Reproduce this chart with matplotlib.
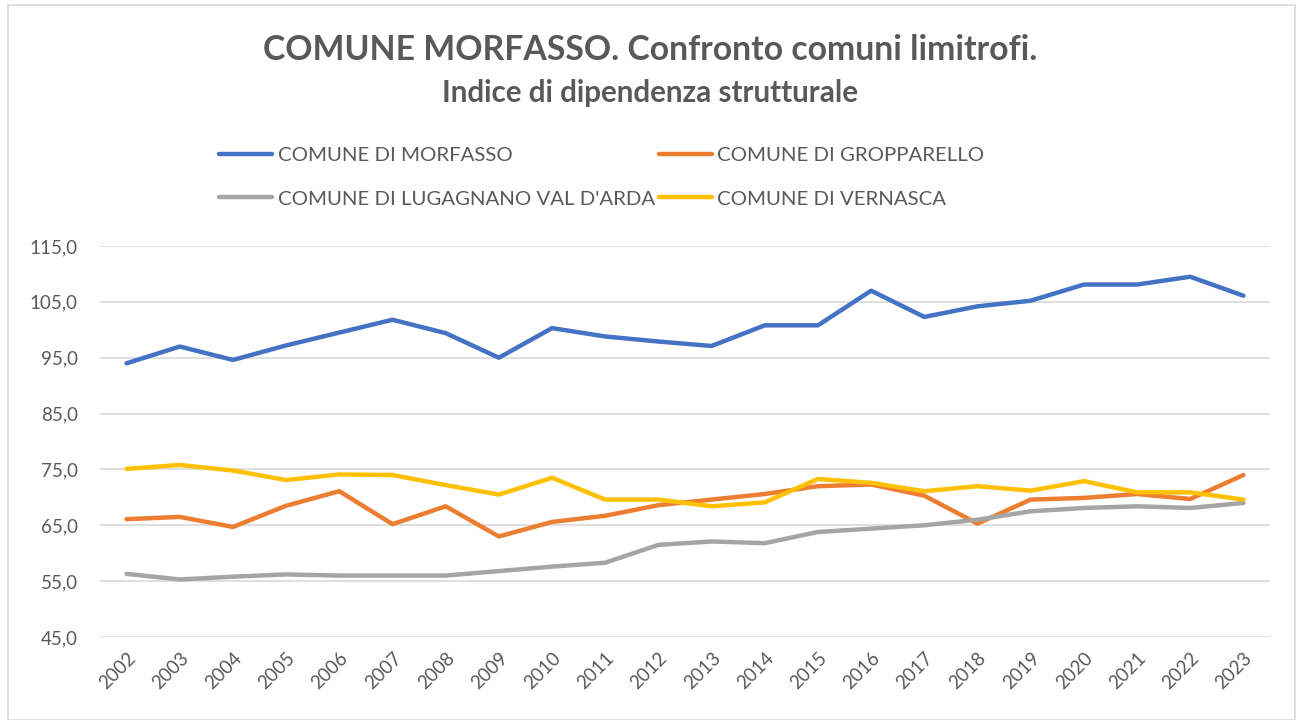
import numpy as np
import matplotlib.pyplot as plt
from matplotlib.patches import Rectangle
from matplotlib.ticker import FuncFormatter

# Indice di dipendenza strutturale, 2002-2023
anni = [str(a) for a in range(2002, 2024)]

morfasso = [94.0, 97.0, 94.6, 97.2, 99.5, 101.8, 99.4, 95.0, 100.3, 98.8, 97.9,
            97.1, 100.8, 100.8, 107.0, 102.3, 104.2, 105.2, 108.1, 108.1, 109.5, 106.1]
gropparello = [66.1, 66.5, 64.7, 68.5, 71.1, 65.2, 68.4, 63.0, 65.6, 66.7, 68.6,
               69.6, 70.6, 72.0, 72.3, 70.3, 65.3, 69.6, 69.9, 70.6, 69.7, 74.0]
lugagnano = [56.3, 55.3, 55.8, 56.2, 56.0, 56.0, 56.0, 56.8, 57.6, 58.3, 61.5,
             62.1, 61.8, 63.8, 64.4, 65.0, 66.0, 67.5, 68.1, 68.4, 68.1, 69.0]
vernasca = [75.1, 75.8, 74.8, 73.1, 74.1, 74.0, 72.2, 70.5, 73.5, 69.6, 69.6,
            68.4, 69.1, 73.3, 72.6, 71.1, 72.0, 71.2, 72.9, 70.9, 70.9, 69.6]

serie = [
    ("COMUNE DI MORFASSO", morfasso, "#4472c4"),
    ("COMUNE DI GROPPARELLO", gropparello, "#ed7d31"),
    ("COMUNE DI LUGAGNANO VAL D'ARDA", lugagnano, "#a5a5a5"),
    ("COMUNE DI VERNASCA", vernasca, "#ffc000"),
]

plt.rcParams['font.family'] = ['Lato', 'DejaVu Sans']
grigio = "#595959"

W, H = 1301, 720
fig = plt.figure(figsize=(W / 100, H / 100), dpi=100)
ax = fig.add_axes([100 / W, 1 - 637 / H, 1170 / W, (637 - 246) / H])

x = np.arange(len(anni))
linee = []
for nome, val, col in serie:
    l, = ax.plot(x, val, color=col, lw=3.2, label=nome,
                 solid_capstyle='round', solid_joinstyle='round')
    linee.append(l)

ax.set_xlim(-0.5, len(anni) - 0.5)
ax.set_ylim(45, 115)
ax.set_yticks(np.arange(45, 116, 10))
ax.yaxis.set_major_formatter(FuncFormatter(lambda v, p: f"{v:.1f}".replace('.', ',')))
ax.set_xticks(x)
ax.set_xticklabels(anni, rotation=45, ha='right', rotation_mode='anchor')
ax.tick_params(axis='both', length=0, labelsize=13.5, colors=grigio)
ax.tick_params(axis='x', pad=9)
ax.tick_params(axis='y', pad=16)
ax.grid(axis='y', color='#d9d9d9', lw=1.2)
ax.set_axisbelow(True)
for s in ax.spines.values():
    s.set_visible(False)

fig.text(0.5, 1 - 50 / H, "COMUNE MORFASSO. Confronto comuni limitrofi.",
         ha='center', va='center', fontsize=24.3, fontweight='bold', color=grigio)
fig.text(0.5, 1 - 93 / H, "Indice di dipendenza strutturale",
         ha='center', va='center', fontsize=21.3, fontweight='bold', color=grigio)

# legenda su due righe, riempita per riga
ordine = [0, 2, 1, 3]
fig.legend([linee[i] for i in ordine], [serie[i][0] for i in ordine],
           loc='upper left', bbox_to_anchor=(201 / W, 1 - 128 / H), ncol=2,
           frameon=False, fontsize=14.7, labelcolor=grigio, handlelength=2.6,
           handletextpad=0.25, columnspacing=0.2, labelspacing=1.3)

fig.patches.append(Rectangle((8 / W, 0), (W - 14) / W, 1 - 5 / H,
                             transform=fig.transFigure, fill=False,
                             edgecolor='#d9d9d9', lw=1.2))

fig.savefig("out.png", dpi=100, facecolor='white')
